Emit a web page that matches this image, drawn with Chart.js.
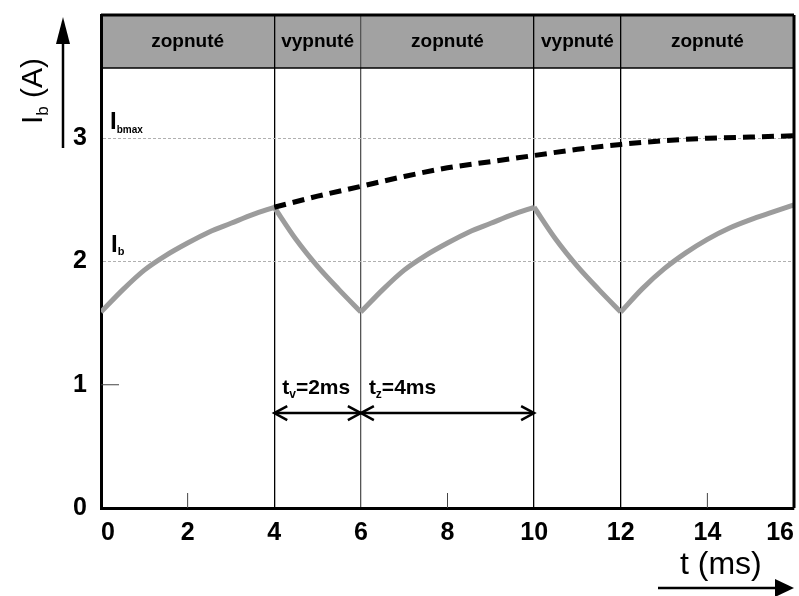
<!DOCTYPE html>
<html>
<head>
<meta charset="utf-8">
<script src="https://cdn.jsdelivr.net/npm/chart.js@4.4.1/dist/chart.umd.min.js"></script>
<style>
  body { margin: 0; background: #fff; }
</style>
</head>
<body>
<canvas id="chart" width="799" height="596"></canvas>
<script>
// values
const timeMs = [0, 0.5, 1, 1.5, 2, 2.5, 3, 3.5, 4, 4.5, 5, 5.5, 6, 6.5, 7, 7.5, 8, 8.5, 9, 9.5, 10,
  10.5, 11, 11.5, 12, 12.5, 13, 13.5, 14, 14.5, 15, 15.5, 16];
const ibValues = [1.59, 1.77, 1.93, 2.05, 2.15, 2.24, 2.31, 2.38, 2.44, 2.18, 1.96, 1.77, 1.59,
  1.77, 1.93, 2.05, 2.15, 2.24, 2.31, 2.38, 2.44, 2.18, 1.96, 1.77, 1.59,
  1.78, 1.94, 2.07, 2.18, 2.27, 2.34, 2.40, 2.46];
const ibmaxTime = [4, 5, 6, 7, 8, 9, 10, 11, 12, 13, 14, 15, 16];
const ibmaxValues = [2.44, 2.53, 2.61, 2.69, 2.76, 2.81, 2.86, 2.91, 2.95, 2.98, 3.0, 3.01, 3.02];

const phaseEdges = [0, 4, 6, 10, 12, 16];
const phaseLabels = ['zopnuté', 'vypnuté', 'zopnuté', 'vypnuté', 'zopnuté'];
const switchLines = [4, 6, 10, 12];
const shortTicksX = [2, 8, 14];
const yTickLabels = [0, 1, 2, 3];
const headerFrom = 3.57; // the grey band sits above this value
const headerTo = 4;

const spanStart = [4, 6];
const spanEnd = [6, 10];
const spanSub = ['v', 'z'];
const spanText = ['=2ms', '=4ms'];
const spanLevel = 0.77;

const FONT = '"Liberation Sans", Arial, sans-serif';

function subText(ctx, x, y, main, sub, rest, size, subSize, weight) {
  ctx.font = weight + ' ' + size + 'px ' + FONT;
  ctx.fillText(main, x, y);
  let w = ctx.measureText(main).width;
  ctx.font = weight + ' ' + subSize + 'px ' + FONT;
  ctx.fillText(sub, x + w, y + subSize * 0.35);
  w += ctx.measureText(sub).width;
  if (rest) {
    ctx.font = weight + ' ' + size + 'px ' + FONT;
    ctx.fillText(rest, x + w, y);
  }
}

function arrowHead(ctx, x, y, dir) {
  // open V arrow head
  ctx.beginPath();
  ctx.moveTo(x - dir * 13, y - 7);
  ctx.lineTo(x, y);
  ctx.lineTo(x - dir * 13, y + 7);
  ctx.stroke();
}

// one gray piece per switching phase, so the corners stay sharp
const ibDatasets = phaseLabels.map((lab, i) => ({
  label: 'Ib ' + lab,
  data: timeMs
    .map((t, k) => ({ x: t, y: ibValues[k] }))
    .filter(p => p.x >= phaseEdges[i] && p.x <= phaseEdges[i + 1]),
  borderColor: '#9c9c9c',
  borderWidth: 5,
  pointRadius: 0,
  cubicInterpolationMode: 'monotone'
}));

const sketchPlugin = {
  id: 'sketch',
  beforeDraw(chart) {
    const { ctx, scales: { x, y } } = chart;
    ctx.save();
    ctx.fillStyle = '#a2a2a2';
    const top = y.getPixelForValue(headerTo);
    const bot = y.getPixelForValue(headerFrom);
    ctx.fillRect(x.getPixelForValue(0), top, x.getPixelForValue(16) - x.getPixelForValue(0), bot - top);
    ctx.restore();
  },
  afterDraw(chart) {
    const { ctx, chartArea: a, scales: { x, y } } = chart;
    ctx.save();
    ctx.fillStyle = '#000';
    ctx.strokeStyle = '#000';

    // header band edges and frame
    const hTop = y.getPixelForValue(headerTo);
    const hBot = y.getPixelForValue(headerFrom);
    ctx.lineWidth = 1.5;
    ctx.beginPath();
    ctx.moveTo(a.left, hBot); ctx.lineTo(a.right, hBot);
    ctx.stroke();
    ctx.lineWidth = 3;
    ctx.beginPath();
    ctx.moveTo(a.left, hTop); ctx.lineTo(a.right, hTop);
    ctx.moveTo(a.right, hTop); ctx.lineTo(a.right, a.bottom);
    ctx.stroke();

    // header labels
    ctx.font = 'bold 19px ' + FONT;
    ctx.textAlign = 'center';
    ctx.textBaseline = 'middle';
    phaseLabels.forEach((lab, i) => {
      const cx = (x.getPixelForValue(phaseEdges[i]) + x.getPixelForValue(phaseEdges[i + 1])) / 2;
      ctx.fillText(lab, cx, (hTop + hBot) / 2);
    });

    // short ticks
    ctx.lineWidth = 1;
    ctx.strokeStyle = '#444';
    ctx.beginPath();
    shortTicksX.forEach(t => {
      const px = x.getPixelForValue(t);
      ctx.moveTo(px, a.bottom); ctx.lineTo(px, a.bottom - 15);
    });
    const y1 = y.getPixelForValue(1);
    ctx.moveTo(a.left, y1); ctx.lineTo(a.left + 18, y1);
    ctx.stroke();

    // curve labels
    ctx.textAlign = 'left';
    ctx.textBaseline = 'alphabetic';
    subText(ctx, a.left + 9, y.getPixelForValue(3) - 9, 'I', 'bmax', '', 24, 10, 'bold');
    subText(ctx, a.left + 10, y.getPixelForValue(2) - 10, 'I', 'b', '', 24, 11, 'bold');

    // time spans
    ctx.strokeStyle = '#000';
    ctx.lineWidth = 2.5;
    const sy = y.getPixelForValue(spanLevel);
    spanStart.forEach((s, i) => {
      const x0 = x.getPixelForValue(s);
      const x1 = x.getPixelForValue(spanEnd[i]);
      ctx.beginPath();
      ctx.moveTo(x0, sy); ctx.lineTo(x1, sy);
      ctx.stroke();
      arrowHead(ctx, x0, sy, -1);
      arrowHead(ctx, x1, sy, 1);
      subText(ctx, x0 + 8, sy - 19, 't', spanSub[i], spanText[i], 21, 12, 'bold');
    });

    // y axis arrow and title
    ctx.lineWidth = 2.5;
    ctx.beginPath();
    ctx.moveTo(63, 148); ctx.lineTo(63, 40);
    ctx.stroke();
    ctx.beginPath();
    ctx.moveTo(63, 17); ctx.lineTo(56, 44); ctx.lineTo(70, 44); ctx.closePath();
    ctx.fill();

    ctx.save();
    ctx.translate(42, 124);
    ctx.rotate(-Math.PI / 2);
    subText(ctx, 0, 0, 'I', 'b', ' (A)', 30, 17, 'normal');
    ctx.restore();

    // x axis arrow and title
    ctx.beginPath();
    ctx.moveTo(658, 588); ctx.lineTo(778, 588);
    ctx.stroke();
    ctx.beginPath();
    ctx.moveTo(794, 588); ctx.lineTo(775, 579); ctx.lineTo(775, 597); ctx.closePath();
    ctx.fill();
    ctx.font = '32px ' + FONT;
    ctx.textAlign = 'left';
    ctx.fillText('t (ms)', 680, 574);

    ctx.restore();
  }
};

new Chart(document.getElementById('chart'), {
  type: 'line',
  data: {
    datasets: [
      {
        label: 'Ibmax',
        data: ibmaxTime.map((t, i) => ({ x: t, y: ibmaxValues[i] })),
        borderColor: '#000',
        borderWidth: 5,
        borderDash: [12, 7],
        pointRadius: 0,
        cubicInterpolationMode: 'monotone'
      },
      ...ibDatasets
    ]
  },
  options: {
    responsive: false,
    animation: false,
    layout: { padding: { top: 15, right: 5, left: 0, bottom: 0 } },
    plugins: {
      legend: { display: false },
      tooltip: { enabled: false }
    },
    scales: {
      x: {
        type: 'linear',
        min: 0,
        max: 16,
        afterFit: s => { s.height = 88; s.paddingLeft = 0; s.paddingRight = 0; },
        ticks: {
          stepSize: 2,
          align: 'inner',
          padding: 10,
          color: '#000',
          font: { family: FONT, size: 25, weight: 'bold' }
        },
        grid: {
          drawTicks: false,
          lineWidth: 1.3,
          color: c => switchLines.includes(c.tick.value) ? (c.tick.value === 6 ? '#555' : '#000') : 'rgba(0,0,0,0)'
        },
        border: { color: '#000', width: 3 }
      },
      y: {
        min: 0,
        max: headerTo,
        afterFit: s => { s.width = 101; s.paddingTop = 0; s.paddingBottom = 0; },
        ticks: {
          stepSize: 1,
          padding: 14,
          color: '#000',
          font: { family: FONT, size: 25, weight: 'bold' },
          callback: v => yTickLabels.includes(v) ? String(v) : ''
        },
        grid: {
          drawTicks: false,
          lineWidth: 1,
          color: c => (c.tick.value === 2 || c.tick.value === 3) ? '#b0b0b0' : 'rgba(0,0,0,0)'
        },
        border: { color: '#000', width: 3, dash: [3, 2] }
      }
    }
  },
  plugins: [sketchPlugin]
});
</script>
</body>
</html>
